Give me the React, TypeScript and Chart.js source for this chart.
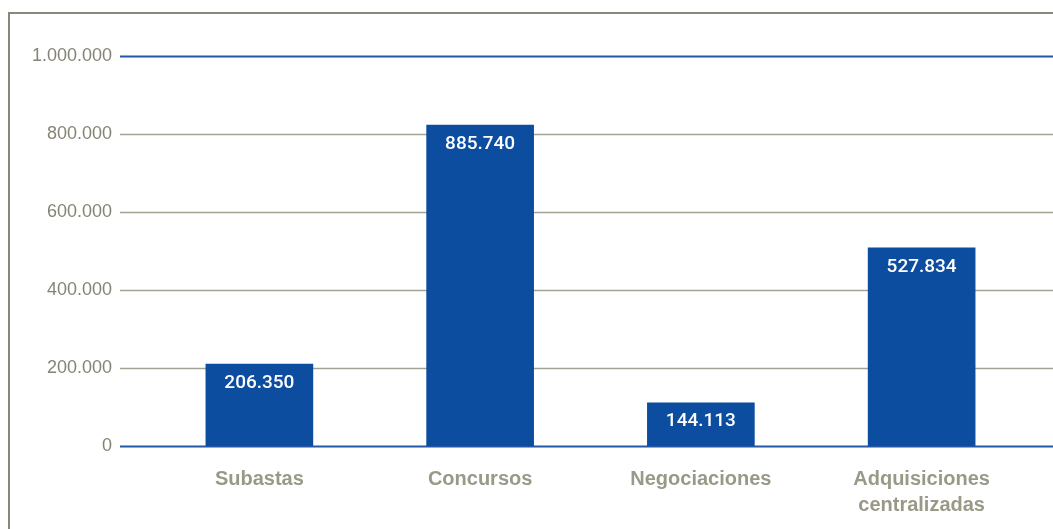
import React, { useEffect, useRef } from "react";
import { Chart, registerables } from "chart.js";

Chart.register(...registerables);

const categories: (string | string[])[] = [
  "Subastas",
  "Concursos",
  "Negociaciones",
  ["Adquisiciones", "centralizadas"],
];
const barValues = [210000, 823000, 111000, 508000];
const valueLabels = ["206.350", "885.740", "144.113", "527.834"];
const yTicks = [0, 200000, 400000, 600000, 800000, 1000000];

const BAR_COLOR = "#0c4da0";
const GRID_GRAY = "#a3a293";
const GRID_BLUE = "#2457a6";
const FRAME = "#88877a";

const fmt = (v: number) => v.toLocaleString("de-DE");

const framePlugin = {
  id: "frame",
  beforeDraw(chart: any) {
    const ctx = chart.ctx;
    ctx.save();
    ctx.fillStyle = "#ffffff";
    ctx.fillRect(0, 0, chart.width, chart.height);
    ctx.strokeStyle = FRAME;
    ctx.lineWidth = 2;
    ctx.beginPath();
    ctx.moveTo(9, chart.height);
    ctx.lineTo(9, 13);
    ctx.lineTo(chart.width, 13);
    ctx.stroke();
    ctx.restore();
  },
  beforeDatasetsDraw(chart: any) {
    const ctx = chart.ctx;
    const y = chart.scales.y;
    ctx.save();
    y.ticks.forEach((t: any) => {
      const py = Math.round(y.getPixelForValue(t.value)) + 0.5;
      const edge = t.value === 0 || t.value === 1000000;
      ctx.strokeStyle = edge ? GRID_BLUE : GRID_GRAY;
      ctx.lineWidth = edge ? 2 : 1.5;
      ctx.beginPath();
      ctx.moveTo(120, py);
      ctx.lineTo(chart.width, py);
      ctx.stroke();
    });
    ctx.restore();
  },
  afterDatasetsDraw(chart: any) {
    const ctx = chart.ctx;
    const meta = chart.getDatasetMeta(0);
    ctx.save();
    ctx.fillStyle = "#ffffff";
    ctx.font = "500 19px Roboto";
    ctx.textAlign = "center";
    ctx.textBaseline = "middle";
    meta.data.forEach((bar: any, i: number) => {
      ctx.fillText(valueLabels[i], bar.x, bar.y + 19);
    });
    ctx.restore();
  },
};

export default function App() {
  const ref = useRef<HTMLCanvasElement>(null);
  useEffect(() => {
    if (!ref.current) return;
    const chart = new Chart(ref.current, {
      type: "bar",
      data: {
        labels: categories as any,
        datasets: [
          {
            data: barValues,
            backgroundColor: BAR_COLOR,
            barThickness: 107,
          },
        ],
      },
      options: {
        animation: false,
        responsive: false,
        maintainAspectRatio: false,
        layout: { padding: { top: 56, right: 21, left: 0, bottom: 0 } },
        plugins: {
          legend: { display: false },
          tooltip: { enabled: false },
          title: { display: false },
        },
        scales: {
          x: {
            grid: { display: false, drawTicks: false },
            border: { display: false },
            ticks: {
              padding: 20,
              color: "#9a9988",
              font: { family: "Liberation Sans", size: 20, weight: "bold", lineHeight: 1.33 },
              maxRotation: 0,
              autoSkip: false,
            },
            afterFit(scale: any) {
              scale.height = 83;
            },
          },
          y: {
            min: 0,
            max: 1000000,
            grid: { display: false, drawTicks: false },
            border: { display: false },
            afterBuildTicks(scale: any) {
              scale.ticks = yTicks.map((v) => ({ value: v }));
            },
            ticks: {
              padding: 37,
              color: "#858474",
              font: { family: "Liberation Sans", size: 18 },
              callback: (v: any) => fmt(Number(v)),
            },
            afterFit(scale: any) {
              scale.width = 149;
            },
          },
        },
      },
      plugins: [framePlugin],
    });
    return () => chart.destroy();
  }, []);
  return (
    <div style={{ position: "absolute", left: 0, top: 0, width: 1053, height: 529 }}>
      <canvas ref={ref} width={1053} height={529} style={{ display: "block" }} />
    </div>
  );
}
